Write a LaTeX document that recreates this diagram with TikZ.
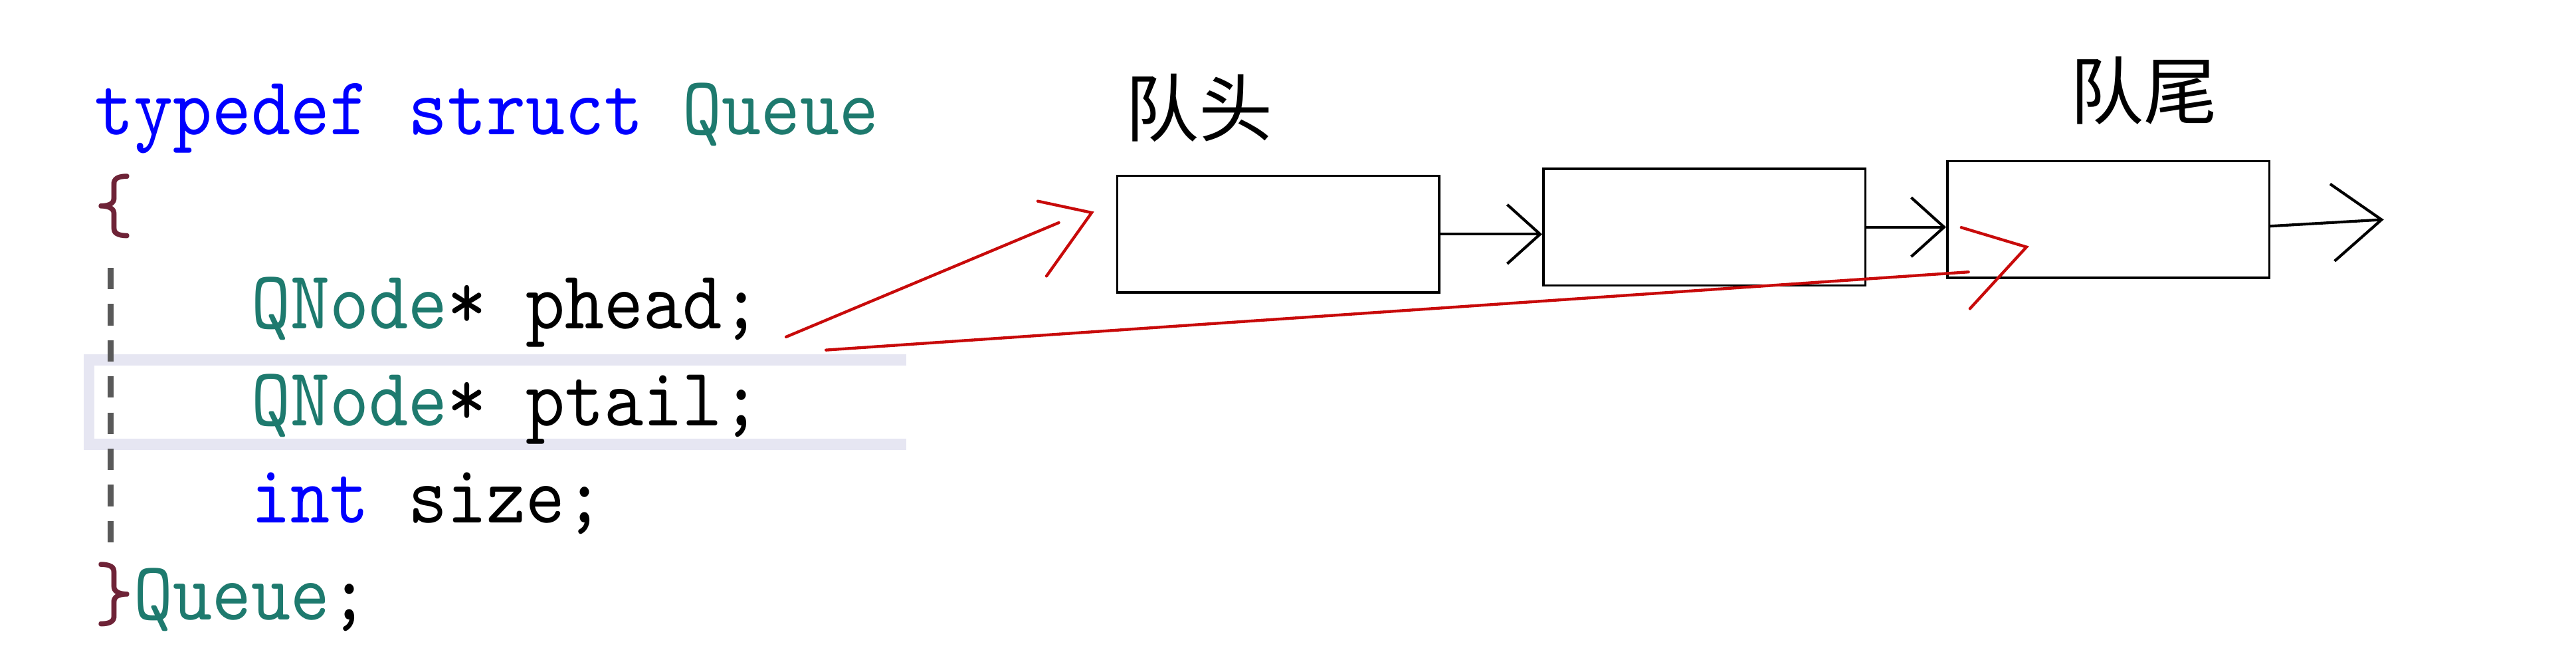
\documentclass[tikz,border=0pt]{standalone}
\usepackage{fontspec}
\newfontfamily\cjk{Noto Sans CJK SC}
\newfontfamily\codefont{lmmono10-regular.otf}[FakeStretch=0.9]
\usepackage{xcolor}
\usetikzlibrary{arrows.meta,positioning}

\definecolor{kw}{RGB}{0,0,255}
\definecolor{ty}{RGB}{30,122,110}
\definecolor{br}{RGB}{110,35,55}
\definecolor{linebg}{RGB}{230,230,242}
\definecolor{pen}{RGB}{200,10,10}

\begin{document}
\begin{tikzpicture}[
    x=0.1mm, y=-0.1mm,
    code/.style={anchor=base west, inner sep=0pt, font=\codefont\fontsize{14.37}{16}\selectfont},
    box/.style={rectangle, draw, minimum width=19.6mm, minimum height=7.1mm, inner sep=0pt, line width=0.4pt},
    tag/.style={inner sep=0pt, font=\cjk\fontsize{12.8}{14}\selectfont},
    link/.style={-{Straight Barb[length=2mm, width=3.6mm]}, line width=0.48pt},
    pen/.style={draw=pen, line width=0.5pt, line cap=round}
]
\useasboundingbox (0,0) rectangle (1568,404);

% editor background: current line and indent guide
\draw[linebg, line width=0.68mm] (551.6,219) -- (54.2,219) -- (54.2,270.5) -- (551.6,270.5);
\draw[black!65, line width=0.38mm, dash pattern=on 1.3mm off 0.9mm] (67.4,163) -- (67.4,331);

% the struct
\node[code] (decl) at (57,82) {\textcolor{kw}{typedef struct} \textcolor{ty}{Queue}};
\node[code] (lbrace) at (57,141) {\textcolor{br}{\{}};
\node[code] (phead) at (152.4,200) {\textcolor{ty}{QNode}* phead;};
\node[code] (ptail) at (152.4,259) {\textcolor{ty}{QNode}* ptail;};
\node[code] (size) at (152.4,318) {\textcolor{kw}{int} size;};
\node[code] (rbrace) at (57,377) {\textcolor{br}{\}}\textcolor{ty}{Queue};};

% the list
\node[box] (box1) at (778,142.5) {};
\node[box, right=6.2mm of box1, yshift=0.43mm] (box2) {};
\node[box, right=4.85mm of box2, yshift=0.46mm] (box3) {};
\node[tag, above=1.9mm of box1, xshift=-4.8mm] (head) {队头};
\node[tag, above=2.1mm of box3, xshift=2.15mm] (tail) {队尾};
\coordinate[right=6.9mm of box3.east] (nil);

\draw[link] (box1.east) -- (box1.east -| box2.west);
\draw[link] (box2.east) -- (box2.east -| box3.west);
\draw[link, -{Straight Barb[length=3mm, width=4.7mm]}] ([yshift=-0.4mm]box3.east) -- (nil);

% pointers
\coordinate (hfrom) at (478.5,205);
\coordinate (hto) at (644.5,135.5);
\coordinate (tfrom) at (502.8,213);
\coordinate (tto) at (1198.2,165.5);
\draw[pen] (hfrom) -- (hto);
\draw[pen] (631.7,122.4) -- (664.5,129.4) -- (637,168);
\draw[pen] (tfrom) -- (tto);
\draw[pen] (1193.8,138.4) -- (1233.5,150.3) -- (1199.1,187.8);
\end{tikzpicture}
\end{document}
